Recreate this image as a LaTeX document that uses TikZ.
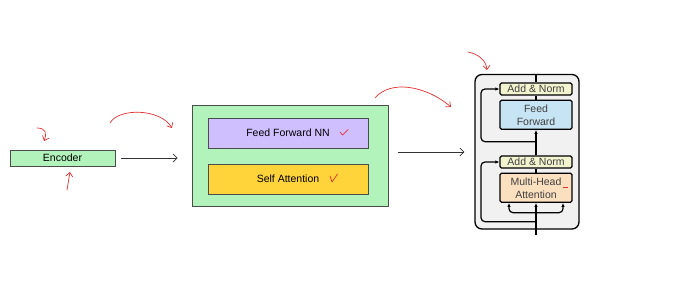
\documentclass[tikz,border=0pt]{standalone}
\usepackage{fontspec}
\setmainfont{Liberation Sans}
\usetikzlibrary{positioning,arrows.meta}

\definecolor{sketchgreen}{HTML}{B2F2BB}
\definecolor{sketchpurple}{HTML}{D0BFFF}
\definecolor{sketchyellow}{HTML}{FFD43B}
\definecolor{inkred}{HTML}{E03131}
\definecolor{blockgray}{HTML}{F1F1F1}
\definecolor{normyellow}{HTML}{F2F4CF}
\definecolor{ffblue}{HTML}{C6E4F4}
\definecolor{mhapeach}{HTML}{FBE0C0}

\begin{document}
\begin{tikzpicture}[
		x=1pt, y=-1pt,
		sketch/.style={
			draw=black!70,
			line width=0.8pt,
			inner sep=0pt,
			font=\fontsize{10.5}{12}\selectfont,
		},
		layer/.style={
			draw=black,
			line width=1.3pt,
			rounded corners=1.5pt,
			minimum width=72pt,
			inner sep=0pt,
			align=center,
			text=black!75,
			font=\fontsize{10.5}{13}\selectfont,
		},
		flow/.style={draw=black!80, line width=0.7pt, -{Straight Barb[length=4pt,width=8pt]}},
		note/.style={draw=inkred, line width=0.7pt, line cap=round, -{Straight Barb[length=4pt,width=7pt]}},
		res/.style={line width=1.2pt, rounded corners=4pt},
		>={Latex[length=4pt,width=3.5pt]}
		]
		\useasboundingbox (0,0) rectangle (691,295);
		% Draw the encoder
		\node [sketch,fill=sketchgreen,minimum width=105pt,minimum height=16pt] (encoder) at (62.5,158) {Encoder};
		% Draw the stack and its two sublayers
		\node [sketch,fill=sketchgreen,minimum width=196pt,minimum height=101pt] (stack) at (290,155.5) {};
		\node [sketch,fill=sketchpurple,minimum width=160pt,minimum height=30pt] (ffnn) at (288,133) {Feed Forward NN};
		\node [sketch,fill=sketchyellow,minimum width=160pt,minimum height=30pt] (selfatt) at (288,179) {Self Attention};
		% Draw the check marks
		\draw[inkred,line width=0.7pt,line cap=round,line join=round] (340,132) -- (342.5,135) -- (348,129.5);
		\draw[inkred,line width=0.7pt,line cap=round,line join=round] (330,176) -- (332,182) -- (337.5,174);
		% Draw the transformer block
		\node [draw=black,line width=1.3pt,rounded corners=7pt,fill=blockgray,minimum width=104pt,minimum height=154.5pt] (block) at (527,151.75) {};
		\node [layer,fill=normyellow,minimum height=12pt] (addnorm1) at (536,89) {Add \& Norm};
		\node [layer,fill=ffblue,minimum height=29pt,below=4pt of addnorm1] (ff) {Feed\\Forward};
		\node [layer,fill=normyellow,minimum height=12pt] (addnorm2) at (536,162) {Add \& Norm};
		\node [layer,fill=mhapeach,minimum height=29pt,below=4pt of addnorm2] (mha) {Multi-Head\\Attention};
		\draw[inkred,line width=1.6pt] (562.5,187.5) -- (567.5,187.5);
		% Draw the paths inside the block
		\coordinate (input) at (536,235);
		\coordinate (split) at (536,212.7);
		\coordinate (skip1) at (536,221.7);
		\coordinate (skip2) at (536,141.7);
		\draw[line width=1.2pt,->] (input) -- (mha.south);
		\draw[res,->] (split) -| ([xshift=-27pt]mha.south);
		\draw[res,->] (split) -| ([xshift=27pt]mha.south);
		\draw[line width=1.2pt] (mha.north) -- (addnorm2.south);
		\draw[line width=1.2pt,->] (addnorm2.north) -- (ff.south);
		\draw[line width=1.2pt] (ff.north) -- (addnorm1.south);
		\draw[line width=1.2pt] (addnorm1.north) -- (addnorm1.north |- block.north);
		\draw[res,->] (skip1) -- ++(-55,0) |- (addnorm2.west);
		\draw[res,->] (skip2) -- ++(-55,0) |- (addnorm1.west);
		% Draw the arrows between the parts
		\coordinate (out) at (388,152);
		\draw[flow,shorten <=6pt,shorten >=14pt] (encoder.east) -- (encoder.east -| stack.west);
		\draw[flow,shorten <=10pt,shorten >=10pt] (out) -- (out -| block.west);
		% Draw the red annotations
		\draw[note] (37,128) .. controls (46,128) and (47,134) .. (44,141);
		\draw[note] (67,190) -- (70,172);
		\draw[note] (110,123) .. controls (118,108) and (160,108) .. (172,128);
		\draw[note] (375,98) .. controls (390,80) and (425,85) .. (451,107);
		\draw[note] (468,52) .. controls (478,54) and (486,60) .. (487,70);
	\end{tikzpicture}
\end{document}
